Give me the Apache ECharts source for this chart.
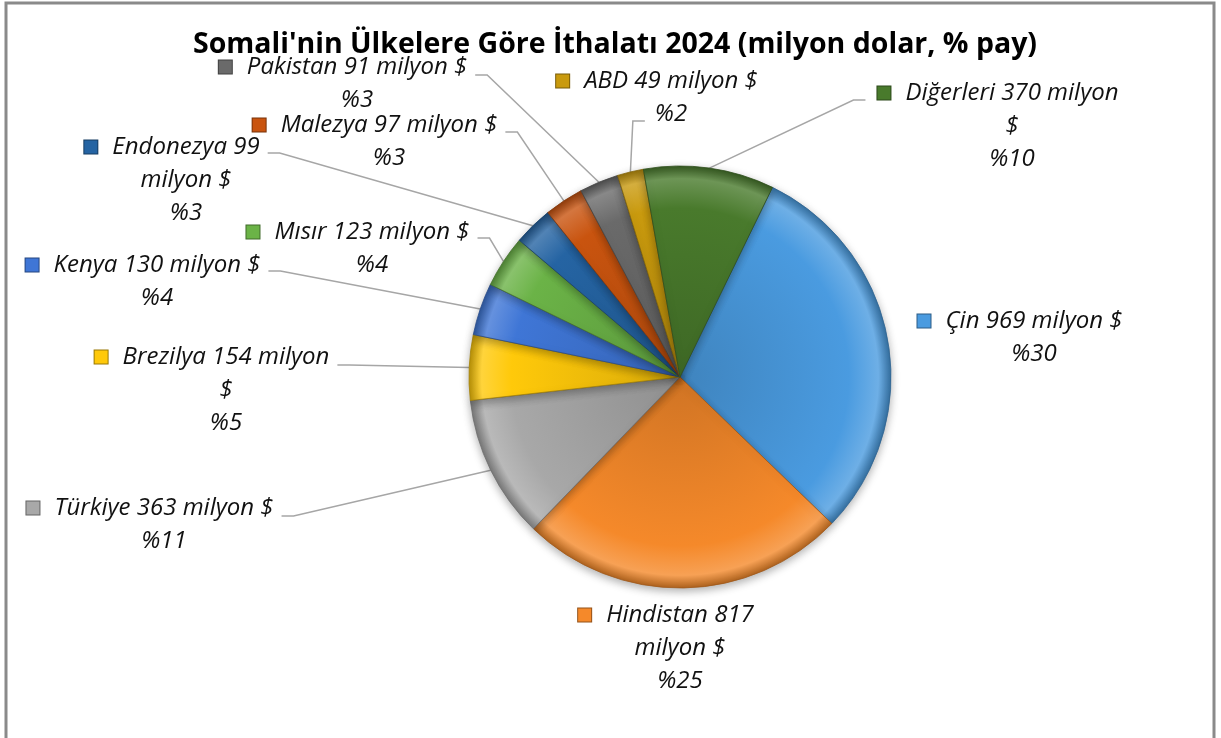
<!DOCTYPE html>
<html>
<head>
<meta charset="utf-8">
<title>Somali ithalatı 2024</title>
<script src="https://cdn.jsdelivr.net/npm/echarts@6/dist/echarts.min.js"></script>
<style>
  html, body { margin: 0; padding: 0; background: #fff; }
  #chart { width: 1221px; height: 738px; }
</style>
</head>
<body>
<div id="chart"></div>
<script>
// ülkeler, saat yönünde Çin'den başlayarak
const countries = ['Çin', 'Hindistan', 'Türkiye', 'Brezilya', 'Kenya', 'Mısır', 'Endonezya', 'Malezya', 'Pakistan', 'ABD', 'Diğerleri']
const importValues = [969, 817, 363, 154, 130, 123, 99, 97, 91, 49, 370] // milyon $
const sharePct = [30, 25, 11, 5, 4, 4, 3, 3, 3, 2, 10] // % pay (dilim büyüklüğü)

const colors = ['#4a9be0', '#f5892a', '#a8a8a8', '#ffc90a', '#3f76d6', '#6bb347', '#2564a3', '#c9540f', '#6a6a6a', '#c99a0e', '#497a2c']

const FONT = '"Open Sans", "Noto Sans", sans-serif'
const FS = 24
const LH = 33
const CX = 680, CY = 377, R = 211

// etiket yerleşimi: x = metin ortası, y = ilk satır ortası
// wrap: none | value | dollar, side: öncü çizginin bağlandığı yer
const labelPlaces = [
  { x: 1034, y: 321, wrap: 'none', side: null },
  { x: 680, y: 615, wrap: 'value', side: null },
  { x: 164, y: 508, wrap: 'none', side: 'right', dy: 8 },
  { x: 226, y: 357, wrap: 'dollar', side: 'right', dy: 8 },
  { x: 157, y: 265, wrap: 'none', side: 'right', dy: 6 },
  { x: 372, y: 232, wrap: 'none', side: 'right', dy: 6 },
  { x: 186, y: 147, wrap: 'value', side: 'right', dy: 6 },
  { x: 389, y: 125, wrap: 'none', side: 'right', dy: 7 },
  { x: 357, y: 67, wrap: 'none', side: 'right', dy: 8 },
  { x: 671, y: 81, wrap: 'none', side: 'left2', dy: 7 },
  { x: 1012, y: 93, wrap: 'dollar', side: 'left', dy: 7 }
]

const MARK = 13, GAP = 15

function shade(hex, amt) {
  const n = parseInt(hex.slice(1), 16)
  let r = n >> 16, g = (n >> 8) & 255, b = n & 255
  const f = v => Math.max(0, Math.min(255, Math.round(amt < 0 ? v * (1 + amt) : v + (255 - v) * amt)))
  return 'rgb(' + f(r) + ',' + f(g) + ',' + f(b) + ')'
}

function labelLines(i) {
  const n = countries[i], v = importValues[i], s = '%' + sharePct[i]
  const w = labelPlaces[i].wrap
  if (w === 'value') return [n + ' ' + v, 'milyon $', s]
  if (w === 'dollar') return [n + ' ' + v + ' milyon', '$', s]
  return [n + ' ' + v + ' milyon $', s]
}

const ctx = document.createElement('canvas').getContext('2d')
function textWidth(str) {
  ctx.font = 'italic ' + FS + 'px ' + FONT
  return ctx.measureText(str).width
}

const data = countries.map((name, i) => {
  const c = colors[i]
  return {
    name: name,
    value: sharePct[i],
    itemStyle: {
      color: {
        type: 'radial', x: CX, y: CY, r: R, global: true,
        colorStops: [
          { offset: 0, color: shade(c, -0.15) },
          { offset: 0.8, color: c },
          { offset: 0.94, color: shade(c, 0.2) },
          { offset: 1, color: shade(c, -0.28) }
        ]
      },
      borderColor: shade(c, -0.35),
      borderWidth: 0.8
    },
    label: {
      rich: {
        m: { width: MARK, height: MARK, backgroundColor: c, borderColor: shade(c, -0.4), borderWidth: 1, lineHeight: LH },
        g: { width: GAP, lineHeight: LH },
        e: { width: MARK + GAP, lineHeight: LH },
        t: { fontSize: FS, fontStyle: 'italic', fontFamily: FONT, color: '#111', lineHeight: LH }
      }
    },
    labelLine: { show: !!labelPlaces[i].side }
  }
})

const chart = echarts.init(document.getElementById('chart'))

chart.setOption({
  backgroundColor: '#fff',
  animation: false,
  title: {
    text: "Somali'nin Ülkelere Göre İthalatı 2024 (milyon dolar, % pay)",
    left: 610,
    textAlign: 'center',
    top: 25,
    textStyle: { fontFamily: FONT, fontSize: 28.5, fontWeight: 'bold', color: '#000' }
  },
  graphic: [{
    type: 'rect',
    shape: { x: 6, y: 3, width: 1208, height: 780 },
    style: { fill: 'none', stroke: '#8a8a8a', lineWidth: 3 },
    z: 100
  }],
  series: [{
    type: 'pie',
    center: [CX, CY],
    radius: R,
    startAngle: 64,
    clockwise: true,
    avoidLabelOverlap: false,
    itemStyle: { shadowBlur: 8, shadowColor: 'rgba(0,0,0,0.3)', shadowOffsetY: 3 },
    label: {
      show: true,
      position: 'outside',
      formatter: p => {
        const lines = labelLines(p.dataIndex)
        return lines.map((l, k) => k === 0 ? '{m|}{g|}{t|' + l + '}{e|}' : '{t|' + l + '}').join('\n')
      }
    },
    labelLine: { show: true, lineStyle: { color: '#a6a6a6', width: 1.5 } },
    labelLayout: p => {
      const i = p.dataIndex
      const pl = labelPlaces[i]
      const out = { x: pl.x, y: pl.y - LH / 2, align: 'center', verticalAlign: 'top' }
      if (pl.side && p.labelLinePoints) {
        const edge = p.labelLinePoints[0]
        const lines = labelLines(i)
        const w1 = textWidth(lines[0])
        let ax, ay, dir
        if (pl.side === 'right') {
          ax = pl.x + w1 / 2 + 8; ay = pl.y + pl.dy; dir = 1
        } else if (pl.side === 'left') {
          ax = pl.x - w1 / 2 - MARK - GAP - 12; ay = pl.y + pl.dy; dir = -1
        } else {
          ax = pl.x - textWidth(lines[1]) / 2 - 10; ay = pl.y + LH + pl.dy; dir = -1
        }
        out.labelLinePoints = [[edge[0], edge[1]], [ax + dir * 12, ay], [ax, ay]]
      }
      return out
    },
    data: data
  }]
})
</script>
</body>
</html>
